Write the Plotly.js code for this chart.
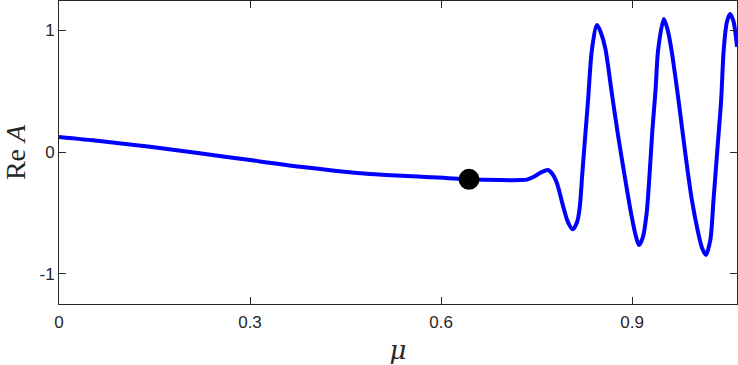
<!DOCTYPE html>
<html>
<head>
<meta charset="utf-8">
<script src="https://cdn.plot.ly/plotly-3.0.1.min.js"></script>
<style>html,body{margin:0;padding:0;background:#fff;}#chart{width:738px;height:365px;}</style>
</head>
<body>
<div id="chart"></div>
<script>
const mu = [0.000,0.064,0.143,0.221,0.300,0.379,0.488,0.564,0.644,0.693,0.725,0.735,0.745,0.758,0.768,0.775,0.782,0.792,0.799,0.807,0.814,0.818,0.822,0.826,0.831,0.837,0.845,0.851,0.858,0.868,0.878,0.889,0.899,0.906,0.911,0.917,0.923,0.928,0.932,0.937,0.941,0.950,0.956,0.962,0.973,0.983,0.994,1.004,1.010,1.016,1.023,1.028,1.034,1.040,1.044,1.049,1.054,1.059,1.065];
const reA = [0.123,0.090,0.043,-0.010,-0.066,-0.120,-0.180,-0.200,-0.224,-0.230,-0.230,-0.226,-0.205,-0.165,-0.148,-0.180,-0.254,-0.448,-0.570,-0.634,-0.570,-0.448,-0.172,0.098,0.426,0.836,1.041,0.980,0.852,0.492,0.139,-0.213,-0.516,-0.689,-0.762,-0.700,-0.500,-0.148,0.180,0.510,0.836,1.090,1.000,0.836,0.426,0.016,-0.393,-0.664,-0.787,-0.844,-0.720,-0.393,0.016,0.426,0.836,1.066,1.131,1.080,0.863];
const dotMu = [0.644];
const dotReA = [-0.224];
const xTicks = [0, 0.3, 0.6, 0.9];
const xTickText = ['0', '0.3', '0.6', '0.9'];
const yTicks = [-1, 0, 1];
const yTickText = ['-1', '0', '1'];

const axisColor = '#262626';
const traces = [
  {x: mu, y: reA, type: 'scatter', mode: 'lines',
   line: {color: '#0000ff', width: 4, shape: 'spline', smoothing: 0.8}, hoverinfo: 'skip'},
  {x: dotMu, y: dotReA, type: 'scatter', mode: 'markers',
   marker: {color: '#000000', size: 21}, hoverinfo: 'skip'}
];
const layout = {
  width: 738, height: 365,
  margin: {l: 59, r: 1, t: 1, b: 61},
  paper_bgcolor: '#ffffff', plot_bgcolor: '#ffffff',
  showlegend: false,
  font: {family: 'Liberation Sans, Arial, sans-serif', size: 17, color: axisColor},
  xaxis: {
    range: [0, 1.0649], tickvals: xTicks, ticktext: xTickText,
    ticks: 'inside', ticklen: 7, tickwidth: 1, tickcolor: axisColor,
    showline: true, linecolor: axisColor, linewidth: 1, mirror: 'ticks',
    showgrid: false, zeroline: false, ticklabelstandoff: 3,
    tickfont: {size: 17, color: axisColor},
    title: {text: '<i>μ</i>', font: {family: 'DejaVu Serif, Liberation Serif, serif', size: 26, color: axisColor}, standoff: 17}
  },
  yaxis: {
    range: [-1.246, 1.238], tickvals: yTicks, ticktext: yTickText,
    ticks: 'inside', ticklen: 7, tickwidth: 1, tickcolor: axisColor,
    showline: true, linecolor: axisColor, linewidth: 1, mirror: 'ticks',
    showgrid: false, zeroline: false,
    tickfont: {size: 17, color: axisColor},
    title: {text: 'Re <i>A</i>', font: {family: 'Liberation Serif, DejaVu Serif, serif', size: 28, color: axisColor}, standoff: 8}
  }
};
Plotly.newPlot('chart', traces, layout, {displayModeBar: false, staticPlot: true});
</script>
</body>
</html>
